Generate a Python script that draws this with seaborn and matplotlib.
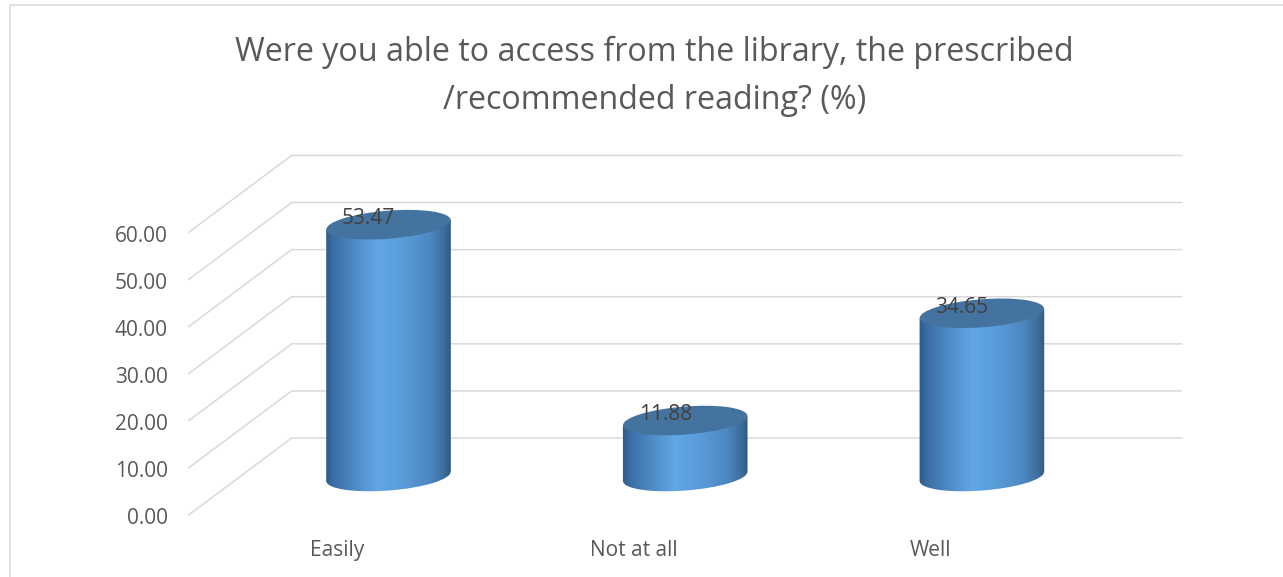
import numpy as np
import pandas as pd
import matplotlib
matplotlib.use('Agg')
import matplotlib.pyplot as plt
import matplotlib.patches as mpatches
import matplotlib.transforms as mtransforms
from matplotlib.colors import LinearSegmentedColormap
import seaborn as sns

# chart data
categories = ['Easily', 'Not at all', 'Well']
values = [53.47, 11.88, 34.65]
tick_values = [0, 10, 20, 30, 40, 50, 60]
title = 'Were you able to access from the library, the prescribed\n/recommended reading? (%)'

sns.set_theme(style='white')
plt.rcParams['font.family'] = ['Open Sans', 'DejaVu Sans']

fig = plt.figure(figsize=(12.83, 5.77), dpi=100)
ax = fig.add_axes([0, 0, 1, 1])

df = pd.DataFrame({'answer': categories, 'pct': values})
sns.barplot(data=df, x='answer', y='pct', width=0.42, color='#5B9BD5', ax=ax)

XLIM = (-1.3094, 3.0148)
YLIM = (-21.34, 101.17)
ax.set_xlim(*XLIM)
ax.set_ylim(*YLIM)
ax.axis('off')

# fake 3d depth (half of the floor depth, in data units)
depth_x, depth_y = 0.1736, 8.17
left, right = -0.5, len(categories) - 0.5
grid_col = '#D9D9D9'
txt_shift = 0.8  # nudge text down a little, va='center' sits high

for v in tick_values:
    ax.plot([left - depth_x, left + depth_x, right + depth_x],
            [v - depth_y, v + depth_y, v + depth_y],
            color=grid_col, lw=1.1, zorder=1)
    ax.text(left - depth_x - 0.071, v - depth_y - txt_shift, f'{v:.2f}', ha='right', va='center',
            fontsize=15, color='#595959')

for i, cat in enumerate(categories):
    ax.text(i - depth_x, -14.97 - txt_shift, cat, ha='center', va='center', fontsize=15, color='#595959')

# cylinders built on top of the seaborn bars
cmap = LinearSegmentedColormap.from_list('cyl', [
    (0.0, '#2A5380'), (0.07, '#3A6DA3'), (0.25, '#4F8CC8'), (0.42, '#60A7E4'),
    (0.6, '#5A9DDB'), (0.82, '#4C87C0'), (0.93, '#3D6C9A'), (1.0, '#2B4F72')])
grad = np.linspace(0, 1, 256).reshape(1, -1)
ident = mtransforms.IdentityTransform()
ell_h = 28
tilt = 4.5

for bar in list(ax.patches):
    bar.set_visible(False)
    x0, w, h = bar.get_x(), bar.get_width(), bar.get_height()
    xc = x0 + w / 2
    L = ax.transData.transform((x0, 0))[0]
    R = ax.transData.transform((x0 + w, 0))[0]
    cx, yb = ax.transData.transform((xc, 0))
    yt = ax.transData.transform((xc, h))[1]
    W = R - L
    dy = W / 2 * np.tan(np.radians(tilt))

    body = mpatches.Polygon([(L, yb - dy), (R, yb + dy), (R, yt + dy), (L, yt - dy)],
                            closed=True, transform=ident)
    base = mpatches.Ellipse((cx, yb), W, ell_h, angle=tilt, transform=ident)
    for clip in (body, base):
        im = ax.imshow(grad, extent=(x0 - 0.01, x0 + w + 0.01, -6, h + 6),
                       aspect='auto', cmap=cmap, zorder=2, interpolation='bilinear')
        im.set_clip_path(clip)

    top = mpatches.Ellipse((cx, yt), W, ell_h, angle=tilt, transform=ident,
                           facecolor='#45739F', edgecolor='none', zorder=3)
    ax.add_patch(top)
    ax.text(xc - 0.067, h + 2.1 - txt_shift, f'{h:.2f}', ha='center', va='center',
            fontsize=15, color='#404040', zorder=4)

ax.set_xlim(*XLIM)
ax.set_ylim(*YLIM)

fig.text(654.5 / 1283, 1 - 76 / 577, title, ha='center', va='center',
         fontsize=23.2, color='#595959', linespacing=1.6)

border = mpatches.Rectangle((9.5, -10), 1300, 582, transform=ident, fill=False,
                            edgecolor=grid_col, lw=1.1)
fig.add_artist(border)

fig.savefig('out.png', dpi=100)
